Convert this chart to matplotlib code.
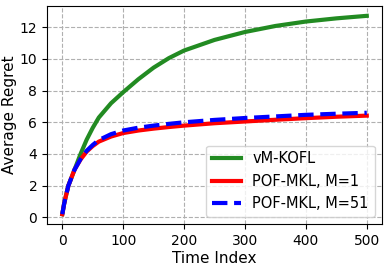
import matplotlib
matplotlib.use("Agg")
import matplotlib.pyplot as plt

t = [0, 3, 5, 10, 20, 30, 40, 50, 60, 80, 100, 125, 150, 175, 200, 250, 300, 350, 400, 450, 500]
vm_kofl = [0.2, 0.85, 1.2, 2.0, 3.0, 4.0, 4.9, 5.65, 6.3, 7.2, 7.9, 8.72, 9.45, 10.05, 10.53, 11.2, 11.7, 12.08, 12.36, 12.56, 12.72]
pof_m1 = [0.2, 0.85, 1.2, 2.0, 3.0, 3.65, 4.15, 4.5, 4.78, 5.1, 5.32, 5.48, 5.6, 5.7, 5.79, 5.94, 6.05, 6.16, 6.26, 6.35, 6.42]
pof_m51 = [0.2, 0.85, 1.2, 2.0, 3.0, 3.68, 4.2, 4.57, 4.88, 5.25, 5.48, 5.66, 5.79, 5.9, 6.0, 6.15, 6.27, 6.37, 6.47, 6.54, 6.6]

fig, ax = plt.subplots(figsize=(3.89, 2.69), dpi=100)
fig.subplots_adjust(left=0.121, right=0.982, top=0.978, bottom=0.167)
ax.grid(linestyle="--", color="#b0b0b0")
ax.set_axisbelow(True)

ax.plot(t, vm_kofl, color="forestgreen", lw=3, label="vM-KOFL")
ax.plot(t, pof_m1, color="red", lw=3, label="POF-MKL, M=1")
ax.plot(t, pof_m51, color="blue", lw=3, ls="--", label="POF-MKL, M=51")

ax.set_xticks([0, 100, 200, 300, 400, 500])
ax.set_yticks([0, 2, 4, 6, 8, 10, 12])
ax.tick_params(labelsize=10)
ax.set_xlabel("Time Index", fontsize=11, labelpad=2)
ax.set_ylabel("Average Regret", fontsize=11, labelpad=2)
ax.legend(loc="lower right", fontsize=10.5)

plt.savefig("out.png")
